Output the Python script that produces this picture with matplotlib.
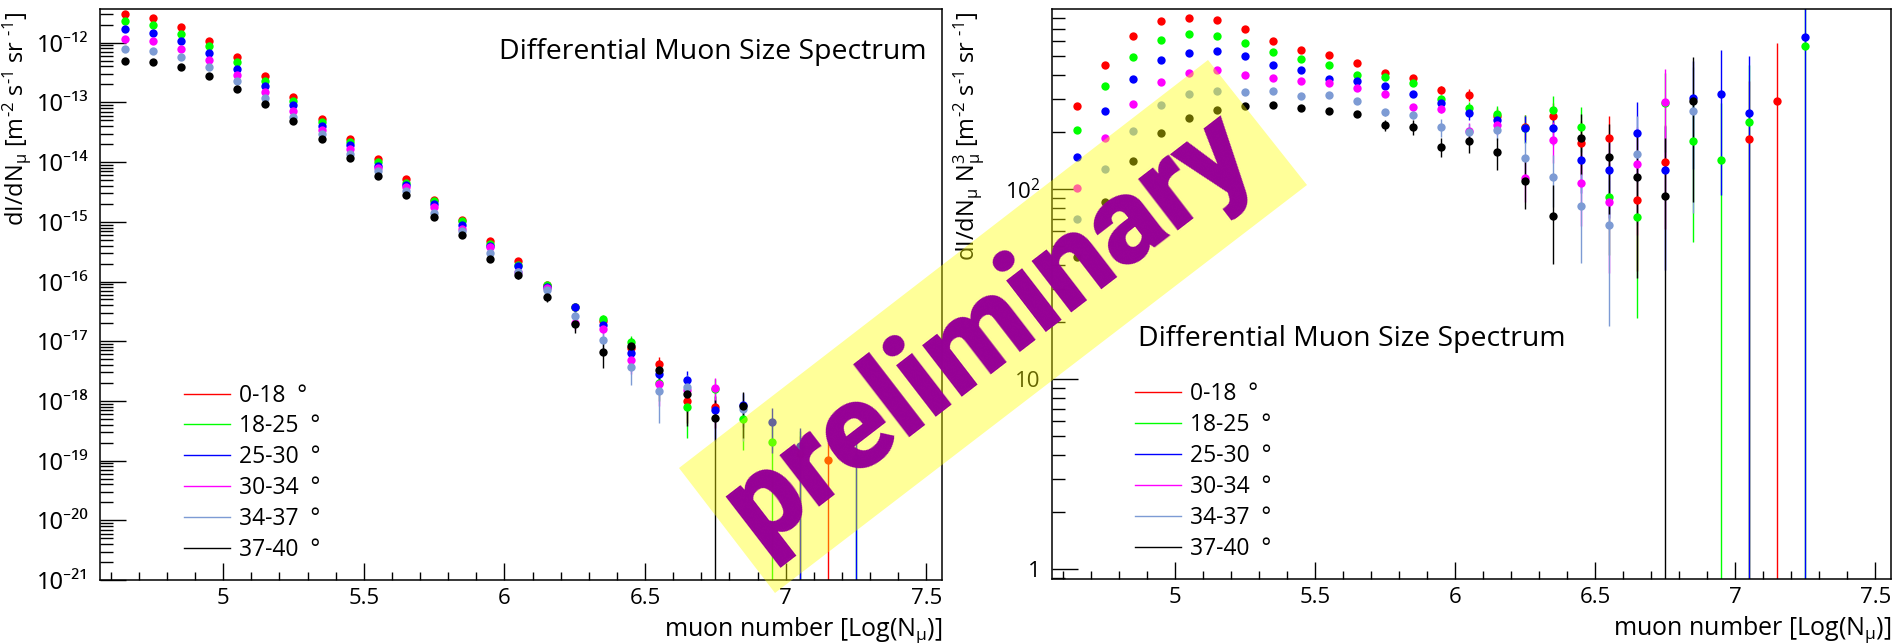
import numpy as np
import matplotlib
matplotlib.use("Agg")
import matplotlib.pyplot as plt
from matplotlib.lines import Line2D
from matplotlib.patches import Polygon
from matplotlib.ticker import (LogLocator, MultipleLocator, FuncFormatter,
                               FixedLocator, FixedFormatter, NullFormatter)

plt.rcParams['font.family'] = ['Open Sans', 'DejaVu Sans']
plt.rcParams['mathtext.fontset'] = 'custom'
plt.rcParams['mathtext.rm'] = 'Open Sans'
plt.rcParams['mathtext.it'] = 'Open Sans:italic'
plt.rcParams['mathtext.default'] = 'regular'

# bin centres in log10(N_mu)
log_nmu = [4.65, 4.75, 4.85, 4.95, 5.05, 5.15, 5.25, 5.35, 5.45, 5.55,
           5.65, 5.75, 5.85, 5.95, 6.05, 6.15, 6.25, 6.35, 6.45, 6.55,
           6.65, 6.75, 6.85, 6.95, 7.05, 7.15, 7.25]

zenith_bins = ["0-18", "18-25", "25-30", "30-34", "34-37", "37-40"]

nan = np.nan
# dI/dN * N^3  [m^-2 s^-1 sr^-1] per zenith band, with statistical errors
n3_0_18 = [274.6, 453.1, 641.2, 769.2, 800.9, 775.4, 695.2, 601.0, 541.2, 507.3,
           464.2, 407.8, 387.0, 333.3, 313.7, 243.2, 213.7, 243.2, 174.6, 185.5,
           87.9, 139.8, nan, nan, 184.8, 292.9, nan]
err_0_18 = [3, 5, 7, 8, 9, 9, 9, 9, 9, 9,
            10, 11, 12, 15, 23.7, 26, 33, 42.6, 55, 58,
            50.6, 78, nan, nan, 184.8, 292.9, nan]

n3_18_25 = [205.3, 349.9, 499.2, 613.4, 659.6, 638.7, 586.6, 526.2, 487.3, 453.1,
            398.1, 391.8, 361.3, 298.8, 266.9, 248.1, 211.2, 262.6, 213.7, 90.8,
            71.5, 283.9, 179.6, 142.7, 225.3, nan, 568.0]
err_18_25 = [3, 5, 6, 7, 8, 8, 8, 8, 8, 9,
             10, 11, 12, 15, 22, 27.5, 35, 47, 56.5, 45.7,
             50.4, 127, 126.6, 142.7, 225.3, nan, 568.0]

n3_25_30 = [148.5, 259.4, 382.4, 477.5, 519.8, 536.8, 503.1, 453.1, 426.4, 382.4,
            373.2, 349.9, 317.6, 283.6, 253.2, 231.7, 209.5, 209.5, 142.7, 125.9,
            198.8, 126.4, 301.2, 317.6, 251.2, nan, 631.0]
err_25_30 = [2.5, 4, 5, 6, 7, 7, 7, 7, 8, 8,
             9, 10, 11, 14, 22, 26, 34.7, 38, 47, 55,
             89, 89, 174, 224, 251.2, nan, 631.0]

n3_30_34 = [102.0, 187.0, 281.2, 368.8, 411.2, 424.7, 401.4, 385.5, 371.7, 361.3,
            341.5, 316.2, 270.2, 264.8, 202.8, 218.1, 115.2, 181.8, 108.4, 85.8,
            135.4, 288.1, nan, nan, nan, nan, nan]
err_30_34 = [2, 3, 4, 5, 6, 6, 7, 7, 7, 8,
             9, 10, 11, 14, 20, 25, 29, 45, 44, 49.7,
             78, 142, nan, nan, nan, nan, nan]

n3_34_37 = [69.5, 127.4, 202.8, 277.8, 317.6, 330.6, 324.0, 328.0, 311.2, 312.4,
            291.7, 254.2, 246.1, 212.0, 201.2, 205.3, 146.8, 116.1, 82.0, 65.2,
            154.1, nan, 258.4, nan, nan, nan, nan]
err_34_37 = [1.5, 2.5, 3.5, 5, 6, 6, 7, 7, 8, 8,
             9, 10, 12, 22.5, 20, 24, 30, 35, 41, 46.1,
             89, nan, 183, nan, nan, nan, nan]

n3_37_40 = [44.2, 86.1, 141.6, 197.1, 238.4, 260.4, 275.6, 276.7, 266.9, 257.3,
            249.2, 217.2, 212.0, 166.4, 179.6, 156.6, 110.6, 72.7, 185.5, 147.4,
            116.1, 92.6, 292.9, nan, nan, nan, nan]
err_37_40 = [1, 2, 3, 4, 5, 6, 6, 7, 8, 9,
             10, 13.6, 18.7, 19, 25, 30, 32, 32.5, 65, 73,
             82, 92.6, 207, nan, nan, nan, nan]

spectra = [n3_0_18, n3_18_25, n3_25_30, n3_30_34, n3_34_37, n3_37_40]
errors = [err_0_18, err_18_25, err_25_30, err_30_34, err_34_37, err_37_40]
colors = ['#ff0000', '#00ff00', '#0000ff', '#ff00ff', '#7d9bd4', '#000000']

W, H = 1892, 643
fig = plt.figure(figsize=(W / 100, H / 100), dpi=100)


def px_axes(left, top, right, bottom):
    return fig.add_axes([left / W, 1 - bottom / H, (right - left) / W, (bottom - top) / H])


ax_l = px_axes(100, 9, 942, 580)
ax_r = px_axes(1052, 9, 1891, 579)

x = np.array(log_nmu)
n_cubed = 10.0 ** (3 * x)


def draw_points(ax, scale):
    for vals, errs, col in zip(spectra, errors, colors):
        v = np.array(vals, dtype=float) / scale
        e = np.array(errs, dtype=float) / scale
        ax.errorbar(x, v, yerr=e, fmt='o', color=col, ms=6.0, mec=col, mew=0,
                    elinewidth=1.0, capsize=2.6, capthick=0.9)


draw_points(ax_l, n_cubed)
draw_points(ax_r, 1.0)

for ax in (ax_l, ax_r):
    ax.set_yscale('log', nonpositive='clip')
    ax.set_xlim(4.562, 7.556)
    ax.xaxis.set_major_locator(MultipleLocator(0.5))
    ax.xaxis.set_minor_locator(MultipleLocator(0.1))
    ax.xaxis.set_major_formatter(FuncFormatter(lambda v, p: f"{v:g}"))
    ax.yaxis.set_minor_locator(LogLocator(base=10, subs=np.arange(2, 10), numticks=100))
    ax.yaxis.set_minor_formatter(NullFormatter())
    ax.tick_params(which='both', direction='in', top=False, right=False,
                   width=1.0, colors='black', labelsize=16)
    ax.tick_params(axis='y', which='major', length=18.5, pad=8)
    ax.tick_params(axis='y', which='minor', length=9.3)
    ax.tick_params(axis='x', which='major', length=12, pad=6)
    ax.tick_params(axis='x', which='minor', length=6)
    for s in ax.spines.values():
        s.set_linewidth(1.1)
    ax.set_xlabel(r"muon number [Log(N$_{\mu}$)]", fontsize=18, loc='right')
    ax.xaxis.set_label_coords(1.0, -0.061)

# left panel: differential flux
decades = [-21, -20, -19, -18, -17, -16, -15, -14, -13, -12]
sup = str.maketrans("-0123456789", "⁻⁰¹²³⁴⁵⁶⁷⁸⁹")
ax_l.set_ylim(1e-21, 3.67e-12)
ax_l.yaxis.set_major_locator(FixedLocator([10.0 ** d for d in decades]))
ax_l.yaxis.set_major_formatter(
    FixedFormatter(["10" + str(d).translate(sup) for d in decades]))
ax_l.tick_params(axis='y', which='major', labelsize=17,
                 labelfontfamily=['Noto Sans', 'DejaVu Sans'])
ax_l.set_ylabel(r"dI/dN$_{\mu}$ [m$^{\text{-2}}$ s$^{\text{-1}}$ sr $^{\text{-1}}$]",
                fontsize=17, loc='top')
ax_l.yaxis.set_label_coords(-0.080, 0.995)
ax_l.text(0.982, 0.95, "Differential Muon Size Spectrum", transform=ax_l.transAxes,
          ha='right', va='top', fontsize=20.4)

# right panel: flux weighted by N^3
ax_r.set_ylim(0.889, 889)
ax_r.yaxis.set_major_locator(FixedLocator([1, 10, 100]))
ax_r.yaxis.set_major_formatter(FixedFormatter(["1", "10", "10$^{2}$"]))
ax_r.set_ylabel(r"dI/dN$_{\mu}$ N$_{\mu}^{3}$ [m$^{\text{-2}}$ s$^{\text{-1}}$ sr $^{\text{-1}}$]",
                fontsize=17, loc='top')
ax_r.yaxis.set_label_coords(-0.078, 0.995)
ax_r.text(0.1025, 0.446, "Differential Muon Size Spectrum", transform=ax_r.transAxes,
          ha='left', va='top', fontsize=20.4)

handles = [Line2D([], [], color=c, lw=1.0) for c in colors]
labels = [f"{z}  °" for z in zenith_bins]
for ax, anchor in ((ax_l, (0.0998, 0.344)), (ax_r, (0.099, 0.345))):
    ax.legend(handles, labels, loc='upper left', bbox_to_anchor=anchor,
              frameon=False, fontsize=16.5, handlelength=2.0, handletextpad=0.4,
              labelspacing=0.3, borderpad=0, borderaxespad=0)

# "preliminary" banner across both panels
corners_px = [(679, 468), (1208, 60), (1307, 185), (775, 593)]
banner = Polygon([(cx / W, 1 - cy / H) for cx, cy in corners_px], closed=True,
                 transform=fig.transFigure, facecolor='#ffff00', alpha=0.4,
                 edgecolor='none', zorder=50)
fig.add_artist(banner)
fig.text(989 / W, 1 - 330 / H, "preliminary", rotation=37.6, rotation_mode='anchor',
         ha='center', va='center', fontsize=88, fontweight='black',
         family=['Roboto', 'Liberation Sans', 'DejaVu Sans'], color='#960096', zorder=60)

fig.savefig("out.png", dpi=100)
